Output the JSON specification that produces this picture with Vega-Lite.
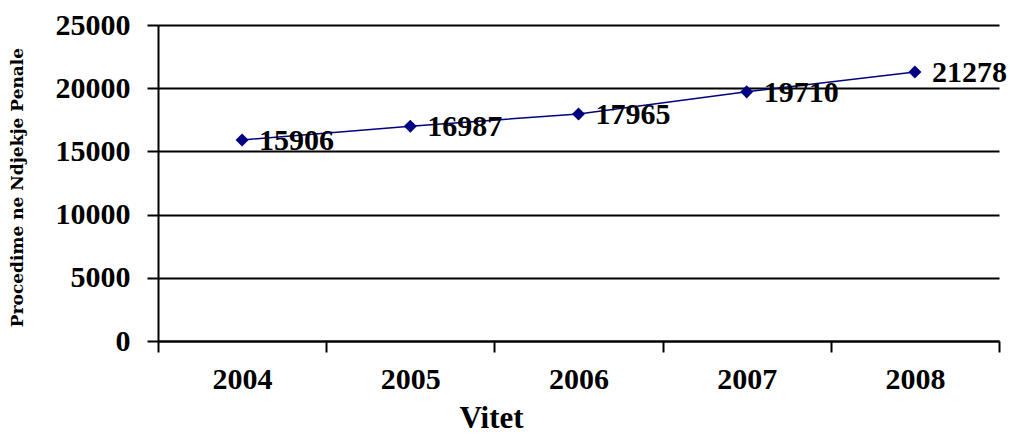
{
  "$schema": "https://vega.github.io/schema/vega-lite/v6.json",
  "autosize": {"type": "none"},
  "width": 841,
  "height": 316,
  "padding": {"left": 158, "top": 25, "right": 15, "bottom": 93},
  "background": "white",
  "config": {
    "view": {"stroke": null},
    "font": "Liberation Serif"
  },
  "data": {
    "values": [
      {"year": "2004", "value": 15906},
      {"year": "2005", "value": 16987},
      {"year": "2006", "value": 17965},
      {"year": "2007", "value": 19710},
      {"year": "2008", "value": 21278}
    ]
  },
  "encoding": {
    "x": {
      "field": "year", "type": "ordinal",
      "scale": {"type": "band", "paddingInner": 0, "paddingOuter": 0},
      "axis": {
        "title": "Vitet", "labelAngle": 0, "tickBand": "extent",
        "domainColor": "black", "domainWidth": 2, "tickColor": "black", "tickWidth": 2, "tickSize": 11,
        "labelFont": "Liberation Serif", "labelFontSize": 30, "labelFontWeight": "bold", "labelColor": "black", "labelPadding": 12,
        "titleFont": "Liberation Serif", "titleFontSize": 31, "titleFontWeight": "bold", "titleColor": "black",
        "titleX": 333, "titleY": 62, "titleAnchor": "middle", "titleBaseline": "top", "grid": false
      }
    },
    "y": {
      "field": "value", "type": "quantitative",
      "scale": {"domain": [0, 25000], "nice": false},
      "axis": {
        "title": "Procedime ne Ndjekje Penale", "values": [0, 5000, 10000, 15000, 20000, 25000], "format": "d",
        "grid": true, "gridColor": "black", "gridWidth": 2,
        "domainColor": "black", "domainWidth": 2, "tickColor": "black", "tickWidth": 2, "tickSize": 11,
        "labelFont": "Liberation Serif", "labelFontSize": 30, "labelFontWeight": "bold", "labelColor": "black", "labelPadding": 17,
        "titleFont": "DejaVu Serif", "titleFontSize": 17, "titleFontWeight": "bold", "titleColor": "black",
        "titleX": -132, "titleY": 162, "titleAnchor": "middle"
      }
    }
  },
  "layer": [
    {"mark": {"type": "line", "color": "#000080", "strokeWidth": 1.5}},
    {"mark": {"type": "point", "shape": "diamond", "filled": true, "color": "#000080", "size": 170, "opacity": 1}},
    {
      "mark": {"type": "text", "align": "left", "baseline": "middle", "dx": 17, "dy": 1, "font": "Liberation Serif", "fontSize": 30, "fontWeight": "bold", "color": "black"},
      "encoding": {"text": {"field": "value", "type": "quantitative", "format": "d"}}
    }
  ]
}
